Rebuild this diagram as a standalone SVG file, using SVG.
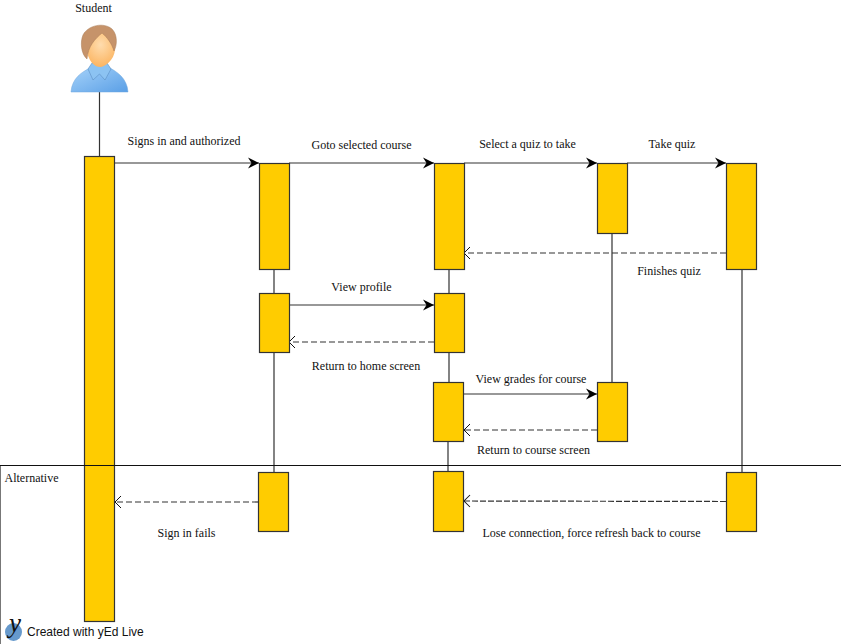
<svg xmlns="http://www.w3.org/2000/svg" width="841" height="644" viewBox="0 0 841 644">
<style>
text{font-family:"Liberation Serif","Times New Roman",serif;font-size:12px;fill:#111;text-anchor:middle}
.bar{fill:#ffcc00;stroke:#333;stroke-width:1.2}
.life{stroke:#333;stroke-width:1.2;fill:none}
.msg{stroke:#333;stroke-width:1.2;fill:none;marker-end:url(#solid)}
.ret{stroke:#333;stroke-width:1.2;fill:none;stroke-dasharray:6 3;marker-end:url(#open)}
</style>
<defs>
<marker id="solid" markerUnits="userSpaceOnUse" markerWidth="14" markerHeight="14" refX="11" refY="6" orient="auto" overflow="visible"><path d="M0 .5L11 6L0 11.500L3.500 6Z" fill="#000"/></marker>
<marker id="open" markerUnits="userSpaceOnUse" markerWidth="14" markerHeight="14" refX="0" refY="6" orient="auto" overflow="visible"><path d="M-6 0L0 6L-6 12" fill="none" stroke="#111" stroke-width="1"/></marker>
<linearGradient id="shirt" x1="0" y1="0" x2="1" y2="1"><stop offset="0" stop-color="#a8d4fa"/><stop offset="1" stop-color="#5a9fe6"/></linearGradient>
<radialGradient id="face" cx=".5" cy=".35" r=".7"><stop offset="0" stop-color="#ffdcae"/><stop offset="1" stop-color="#fbb25c"/></radialGradient>
</defs>
<g id="connectors">
<path class="life" d="M99.500 92V156M274 269V293M274 352V472M449 269V293M449 352V382M448 441V471M612 233V382M742 269V472"/>
<path class="msg" d="M115 163H259"/>
<path class="msg" d="M289 163H434"/>
<path class="msg" d="M464 163H597"/>
<path class="msg" d="M627 163H726"/>
<path class="msg" d="M289 305H434"/>
<path class="msg" d="M464 394H597"/>
<path class="ret" d="M726 253H464"/>
<path class="ret" d="M434 342H289"/>
<path class="ret" d="M597 430H464"/>
<path class="ret" d="M258 502H115"/>
<path class="ret" style="stroke-dasharray:6 2" d="M726 501.500L464 501"/>
</g>
<g id="student">
<path d="M71 92C72 78 82 72 90 68L94 66H105L110 68C117 72 127 78 128 92Z" fill="url(#shirt)" stroke="#6ea6dc" stroke-width=".5"/>
<path d="M88 69L92 63H107L111 69L105 80L99.500 74L93 80Z" fill="#8cc3f2" stroke="#5a8fc4" stroke-width=".6"/>
<path d="M86 44C86 36 94 32 102 33C110 35 115 43 115 50C114 60 105 67 100 67C92 67 86 56 86 44Z" fill="url(#face)"/>
<path d="M87 59C81 54 80 42 83 35C88 25 104 22 112 29C118 35 117 46 114 51C112 44 107 37 102 33C95 39 88 46 87 59Z" fill="#c6936a" stroke="#a87a55" stroke-width=".5"/>
<text x="93.500" y="11.500">Student</text>
</g>
<g id="alternative">
<path d="M.5 644V465.500" fill="none" stroke="#777" stroke-width="1"/>
<text x="31.500" y="482">Alternative</text>
</g>
<g id="bar-student"><rect class="bar" x="84.500" y="156.500" width="30" height="465"/></g>
<path d="M0 465.500H841" stroke="#111" stroke-width="1" fill="none"/>
<g id="n1"><rect class="bar" x="259.500" y="163.500" width="30" height="106"/></g>
<g id="n2"><rect class="bar" x="434.500" y="163.500" width="30" height="106"/></g>
<g id="n3"><rect class="bar" x="597.500" y="163.500" width="30" height="70"/></g>
<g id="n4"><rect class="bar" x="726.500" y="163.500" width="30" height="106"/></g>
<g id="n5"><rect class="bar" x="259.500" y="293.500" width="30" height="59"/></g>
<g id="n6"><rect class="bar" x="434.500" y="293.500" width="30" height="59"/></g>
<g id="n7"><rect class="bar" x="433.500" y="382.500" width="30" height="59"/></g>
<g id="n8"><rect class="bar" x="597.500" y="382.500" width="30" height="59"/></g>
<g id="n9"><rect class="bar" x="258.500" y="472.500" width="30" height="59"/></g>
<g id="n10"><rect class="bar" x="433.500" y="471.500" width="30" height="60"/></g>
<g id="n11"><rect class="bar" x="726.500" y="472.500" width="30" height="59"/></g>
<g id="labels">
<text x="184" y="145">Signs in and authorized</text>
<text x="361.500" y="149">Goto selected course</text>
<text x="527.500" y="148">Select a quiz to take</text>
<text x="672" y="148">Take quiz</text>
<text x="669" y="275">Finishes quiz</text>
<text x="361.500" y="291">View profile</text>
<text x="366" y="370">Return to home screen</text>
<text x="531" y="383">View grades for course</text>
<text x="533.500" y="454">Return to course screen</text>
<text x="186.500" y="537">Sign in fails</text>
<text x="591.500" y="537">Lose connection, force refresh back to course</text>
</g>
<g id="watermark">
<ellipse cx="13.500" cy="632" rx="8.500" ry="9" fill="#6699cc"/>
<text x="15" y="632" style="font-size:27px;font-style:italic;fill:#111">y</text>
<text x="27" y="636" style="font-family:'Liberation Sans',Arial,sans-serif;font-size:12px;text-anchor:start">Created with yEd Live</text>
</g>
</svg>
